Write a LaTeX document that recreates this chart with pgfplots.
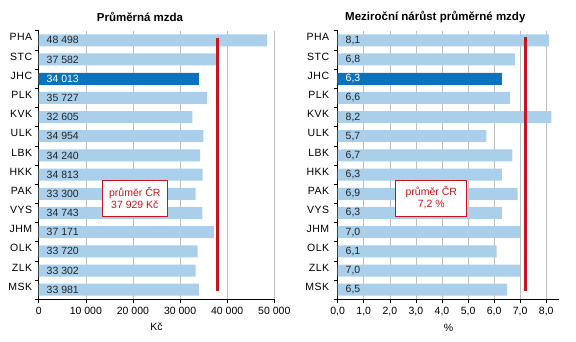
\documentclass[border=0pt]{standalone}
\usepackage{pgfplots}
\pgfplotsset{compat=1.18}
\usepackage{pgfplotstable}
\usepackage{fontspec}
\setmainfont{Liberation Sans}
\newfontfamily\spacedfont[LetterSpace=5]{Liberation Sans}
\definecolor{lightbar}{RGB}{169,207,234}
\definecolor{darkbar}{RGB}{11,114,189}
\definecolor{avgred}{RGB}{200,20,30}
\definecolor{gridgray}{RGB}{190,190,190}

\pgfplotstableread{
idx val
1 48498
2 37582
3 34013
4 35727
5 32605
6 34954
7 34240
8 34813
9 33300
10 34743
11 37171
12 33720
13 33302
14 33981
}\mzda

\pgfplotstableread{
idx val
1 8.1
2 6.8
3 6.3
4 6.6
5 8.2
6 5.7
7 6.7
8 6.3
9 6.9
10 6.3
11 7.0
12 6.1
13 7.0
14 6.5
}\narust

\newcommand{\lblfont}{\fontsize{10.5bp}{12bp}\selectfont}

\pgfplotsset{
  regionstyle/.style={
    scale only axis, height=268.6bp,
    ymin=0.5, ymax=14.5, y dir=reverse,
    axis x line*=bottom, axis y line*=left,
    axis line style={black, line width=0.6pt},
    ytick={0.5,1.5,...,14.5}, yticklabels={},
    extra y ticks={1,...,14},
    extra y tick labels={PHA,STC,JHC,PLK,KVK,ULK,LBK,HKK,PAK,VYS,JHM,OLK,ZLK,MSK},
    extra y tick style={major tick length=0pt,
      yticklabel style={font=\spacedfont\fontsize{10.5bp}{12bp}\selectfont, yshift=3bp, xshift=-#1}},
    tick align=outside, major tick length=4bp,
    tick style={black, line width=0.6pt},
    xmajorgrids, grid style={gridgray, line width=0.6pt},
    tick label style={font=\lblfont, text=black},
    label style={font=\lblfont},
    xlabel style={yshift=-2bp},
    /pgf/number format/assume math mode=true,
    clip=false,
  },
}

\begin{document}
\begin{tikzpicture}
\useasboundingbox (0,0) rectangle (576bp,342bp);

\begin{axis}[regionstyle=3bp,
  at={(38.7bp,42.7bp)}, anchor=south west,
  width=235.6bp,
  xmin=0, xmax=50000,
  xtick={0,10000,...,50000},
  scaled x ticks=false,
  /pgf/number format/1000 sep={\ },
  xlabel={Kč},
]
\addplot[xbar, bar width=12bp, bar shift=0pt, fill=lightbar, draw=none] table[x=val, y=idx]{\mzda};
\addplot[xbar, bar width=12bp, bar shift=0pt, fill=darkbar, draw=none] coordinates {(34013,3)};
\addplot[only marks, mark=none, point meta=explicit,
  skip coords between index={2}{3},
  nodes near coords={\pgfmathprintnumber[assume math mode=true, 1000 sep={\ }]{\pgfplotspointmeta}},
  nodes near coords style={anchor=west, xshift=4.5bp, font=\lblfont, text=black!85}]
  table[x expr=0, y=idx, meta=val]{\mzda};
\addplot[only marks, mark=none, point meta=explicit,
  restrict y to domain=2.5:3.5,
  nodes near coords={\pgfmathprintnumber[assume math mode=true, 1000 sep={\ }]{\pgfplotspointmeta}},
  nodes near coords style={anchor=west, xshift=4.5bp, font=\lblfont, text=white}]
  table[x expr=0, y=idx, meta=val]{\mzda};
\addplot[avgred, line width=3bp] coordinates {(37929,0.9) (37929,14.05)};
\node[draw=avgred, line width=0.8pt, fill=white, text=avgred, align=center,
  minimum width=65bp, minimum height=36bp, inner sep=1bp, font=\lblfont]
  at (axis cs:20400,9.22) {průměr ČR\\37 929 Kč};
\end{axis}

\begin{axis}[regionstyle=5bp,
  at={(337.7bp,42.7bp)}, anchor=south west,
  width=221.6bp,
  xmin=0, xmax=8.5,
  xtick={0,1,...,8},
  /pgf/number format/fixed, /pgf/number format/fixed zerofill,
  /pgf/number format/precision=1, /pgf/number format/use comma,
  xlabel={\%},
]
\addplot[xbar, bar width=12bp, bar shift=0pt, fill=lightbar, draw=none] table[x=val, y=idx]{\narust};
\addplot[xbar, bar width=12bp, bar shift=0pt, fill=darkbar, draw=none] coordinates {(6.3,3)};
\addplot[only marks, mark=none, point meta=explicit,
  skip coords between index={2}{3},
  nodes near coords={\pgfmathprintnumber[assume math mode=true, fixed, fixed zerofill, precision=1, use comma]{\pgfplotspointmeta}},
  nodes near coords style={anchor=west, xshift=4.5bp, font=\lblfont, text=black!85}]
  table[x expr=0, y=idx, meta=val]{\narust};
\addplot[only marks, mark=none, point meta=explicit,
  restrict y to domain=2.5:3.5,
  nodes near coords={\pgfmathprintnumber[assume math mode=true, fixed, fixed zerofill, precision=1, use comma]{\pgfplotspointmeta}},
  nodes near coords style={anchor=west, xshift=4.5bp, font=\lblfont, text=white}]
  table[x expr=0, y=idx, meta=val]{\narust};
\addplot[avgred, line width=3bp] coordinates {(7.2,0.85) (7.2,14.07)};
\node[draw=avgred, line width=0.8pt, fill=white, text=avgred, align=center,
  minimum width=71bp, minimum height=36bp, inner sep=1bp, font=\lblfont]
  at (axis cs:3.59,9.22) {průměr ČR\\7,2 \%};
\end{axis}

\node[font=\bfseries\fontsize{11.5bp}{13bp}\selectfont] at (140bp,325bp) {Průměrná mzda};
\node[font=\bfseries\fontsize{11.5bp}{13bp}\selectfont] at (435.3bp,325bp) {Meziroční nárůst průměrné mzdy};
\end{tikzpicture}
\end{document}
